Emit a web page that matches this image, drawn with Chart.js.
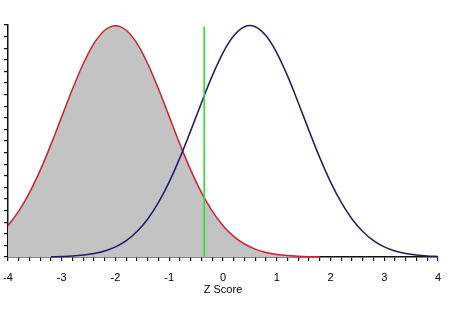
<!DOCTYPE html>
<html><head><meta charset="utf-8">
<script src="https://cdn.jsdelivr.net/npm/chart.js@4/dist/chart.umd.min.js"></script>
<style>html,body{margin:0;padding:0;background:#fff}#wrap{width:449px;height:313px}</style>
</head><body><div id="wrap"><canvas id="c" width="449" height="313"></canvas></div>
<script>
const zValues = [-4,-3.8,-3.6,-3.4,-3.2,-3,-2.8,-2.6,-2.4,-2.2,-2,-1.8,-1.6,-1.4,-1.2,-1,-0.8,-0.6,-0.4,-0.2,0,0.2,0.4,0.6,0.8,1,1.2,1.4,1.6,1.8,2,2.2,2.4,2.6,2.8,3,3.2,3.4,3.6,3.8,4];
const redCurve = [0.0540,0.0790,0.1109,0.1497,0.1942,0.2420,0.2897,0.3332,0.3683,0.3910,0.3989,0.3910,0.3683,0.3332,0.2897,0.2420,0.1942,0.1497,0.1109,0.0790,0.0540,0.0355,0.0224,0.0136,0.0079,0.0044,0.0024,0.0012,0.0006,0.0003,null,null,null,null,null,null,null,null,null,null,null];
const blueCurve = [null,null,null,null,0.0004,0.0009,0.0017,0.0033,0.0060,0.0104,0.0175,0.0283,0.0440,0.0656,0.0940,0.1295,0.1714,0.2179,0.2661,0.3123,0.3521,0.3814,0.3970,0.3970,0.3814,0.3521,0.3123,0.2661,0.2179,0.1714,0.1295,0.0940,0.0656,0.0440,0.0283,0.0175,0.0104,0.0060,0.0033,0.0017,0.0009];
const cutoffZ = -0.35;
const cutoffTop = 0.397;
const xTitle = 'Z Score';

const toPts = arr => zValues.map((x,i)=>({x:x,y:arr[i]}));

new Chart(document.getElementById('c'), {
  type: 'line',
  data: {
    datasets: [
      {data:[{x:cutoffZ,y:0},{x:cutoffZ,y:cutoffTop}], borderColor:'#2ee02e', borderWidth:1.6, pointRadius:0, fill:false, clip:false},
      {data:toPts(blueCurve), borderColor:'#1c1c6b', borderWidth:1.5, pointRadius:0, fill:false, tension:0.4, clip:false},
      {data:toPts(redCurve), borderColor:'#cc2233', borderWidth:1.5, pointRadius:0, fill:'origin', backgroundColor:'#c3c3c3', cubicInterpolationMode:'monotone', clip:false}
    ]
  },
  options: {
    responsive:false, animation:false,
    layout:{padding:{left:0,right:11,top:25,bottom:0}},
    plugins:{legend:{display:false}, tooltip:{enabled:false}},
    scales:{
      x:{type:'linear', min:-4, max:4,
        border:{display:true,color:'#111',width:1.5},
        grid:{drawOnChartArea:false, drawTicks:true, tickLength:4, color:'#111', lineWidth:1.2},
        ticks:{stepSize:0.2, autoSkip:false, maxRotation:0, padding:10, color:'#000',
          font:{family:'Liberation Sans, Arial', size:11},
          callback:v=>Math.abs(v-Math.round(v))<1e-6 ? String(Math.round(v)) : ''},
        title:{display:true, text:xTitle, color:'#000', font:{family:'Liberation Sans, Arial', size:11}, padding:{top:0,bottom:16.5}},
        afterFit:s=>{s.height=56; s.paddingLeft=0; s.paddingRight=0;}
      },
      y:{min:0, max:0.4,
        border:{display:true,color:'#111',width:1.5},
        grid:{drawOnChartArea:false, drawTicks:true, tickLength:4, color:'#111', lineWidth:1.2},
        ticks:{stepSize:0.02, display:false},
        afterFit:s=>{s.width=8;}
      }
    }
  }
});
</script></body></html>
